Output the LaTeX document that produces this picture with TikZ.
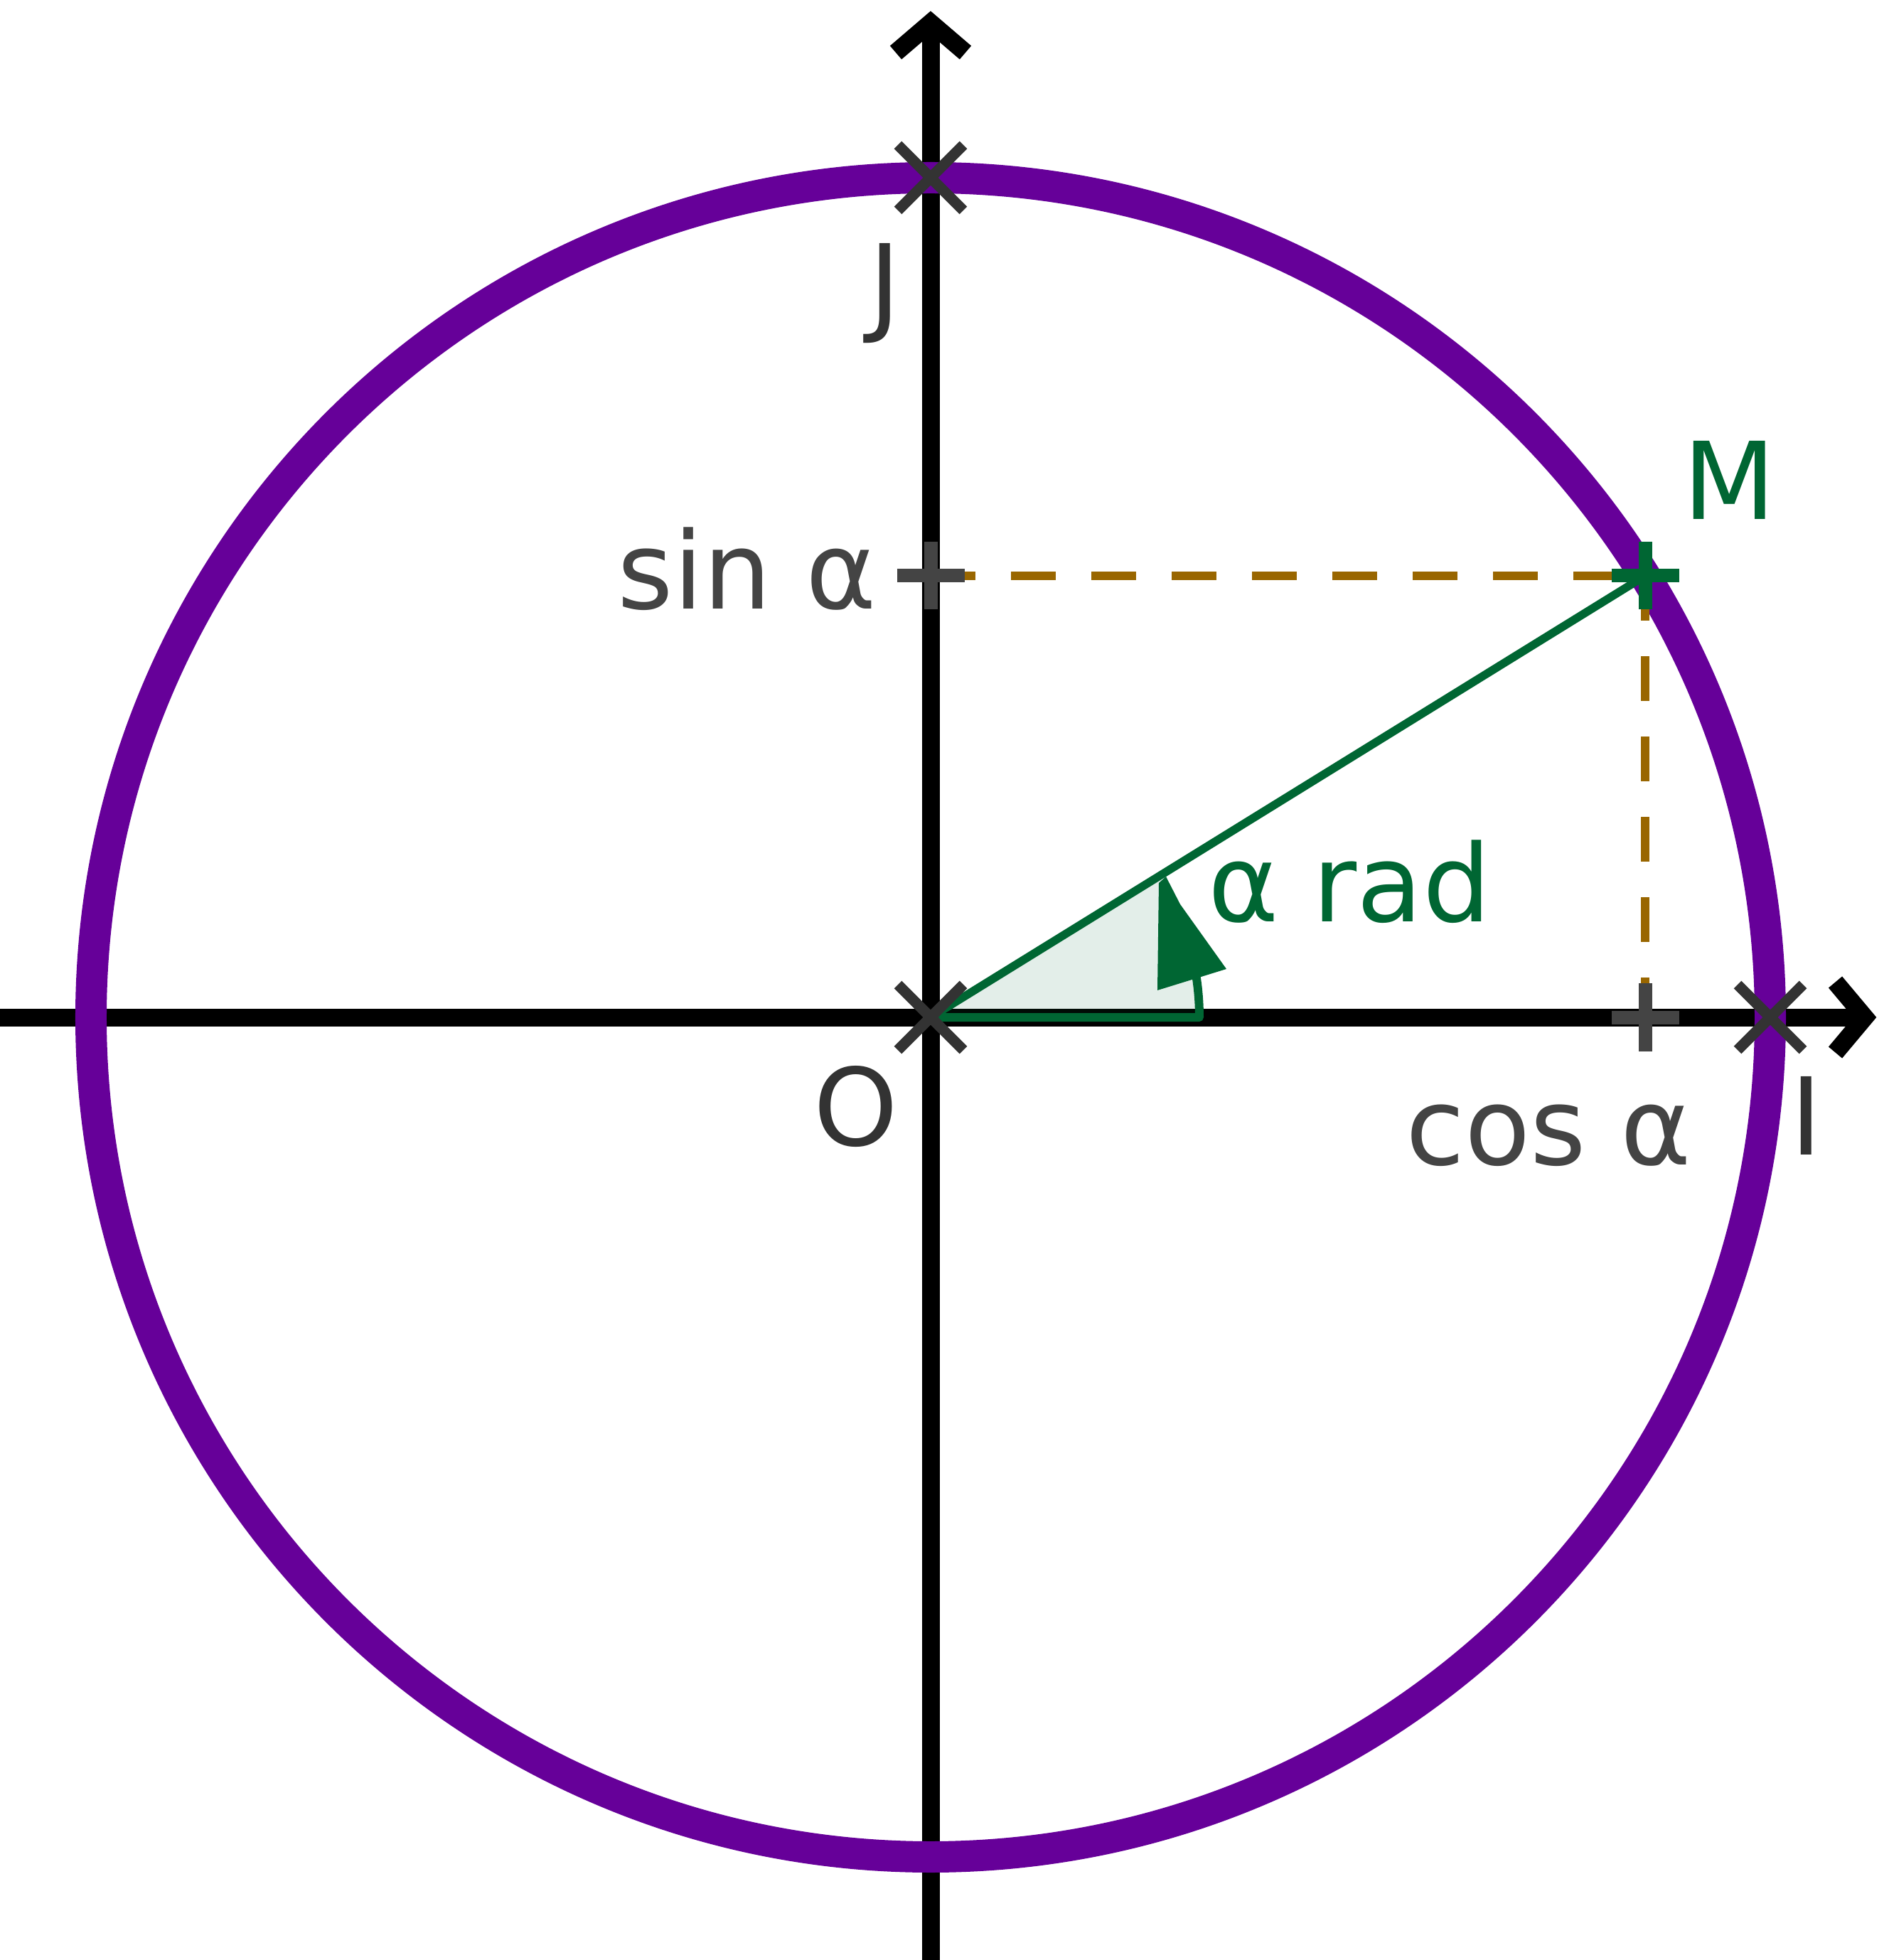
\documentclass[tikz,border=0pt]{standalone}
\usepackage{fontspec}
\setmainfont{DejaVu Sans}
\definecolor{purp}{HTML}{660099}
\definecolor{dgreen}{HTML}{006633}
\definecolor{brn}{HTML}{996600}
\definecolor{gthree}{HTML}{333333}
\definecolor{gfour}{HTML}{444444}
\begin{document}
\begin{tikzpicture}[
  axisline/.style={line width=0.25cm, black},
  chev/.style={line width=0.25cm, black, line join=miter, miter limit=10},
  ucircle/.style={line width=0.44cm, purp},
  guide/.style={line width=0.12cm, brn, dash pattern=on 0.63cm off 0.50cm},
  omline/.style={line width=0.115cm, dgreen},
  anglestroke/.style={line width=0.12cm, dgreen, line join=round},
  xmarkstyle/.style={line width=0.15cm, gthree},
  plusstyle/.style={line width=0.19cm},
  lbl/.style={inner sep=0pt, outer sep=0pt, anchor=base west, font=\fontsize{42.97}{50}\selectfont},
  xmark/.pic={\draw[xmarkstyle] (-0.46,-0.46) -- (0.46,0.46) (-0.46,0.46) -- (0.46,-0.46);},
  plusmark/.pic={\draw[plusstyle] (-0.475,0) -- (0.475,0) (0,-0.475) -- (0,0.475);},
]
\useasboundingbox (-13.09,-13.26) rectangle (13.48,14.31);

% named points
\coordinate (O) at (0,0);
\coordinate (J) at (0,11.81);
\coordinate (I) at (11.81,0);
\coordinate (M) at (10.05,6.21);
\coordinate (S) at (0,6.21);
\coordinate (C) at (10.05,0);
\coordinate (xl) at (-13.3,0);
\coordinate (xr) at (13.14,0);
\coordinate (yb) at (0,-13.5);
\coordinate (yt) at (0,13.99);
\coordinate (A0) at (3.78,0);

% axes
\draw[axisline] (xl) -- (xr);
\draw[axisline] (yb) -- (yt);
\draw[chev] (12.725,0.495) -- (xr) -- (12.725,-0.495);
\draw[chev] (-0.49,13.57) -- (yt) -- (0.49,13.57);

% angle wedge
\fill[dgreen, fill opacity=0.11] (O) -- (A0) arc[start angle=0, end angle=31.7, radius=3.78] -- cycle;
\draw[anglestroke] (O) -- (A0) arc[start angle=0, end angle=9, radius=3.78];
\fill[dgreen] (3.19,0.38) -- (3.21,1.89) -- (3.31,1.98) -- (3.51,1.59) -- (4.16,0.68) -- cycle;

% unit circle
\draw[ucircle] (O) circle[radius=11.81];

% radius to M
\draw[omline] (O) -- (M);

% projections
\draw[guide] (S) -- (M);
\draw[guide] (M) -- (C);

% marks
\pic at (O) {xmark};
\pic at (J) {xmark};
\pic at (I) {xmark};
\pic[gfour] at (S) {plusmark};
\pic[gfour] at (C) {plusmark};
\pic[dgreen] at (M) {plusmark};

% labels
\node[lbl, gthree] (Jl) at (-0.87,9.78) {J};
\node[lbl, gthree] (Ol) at (-1.64,-1.80) {O};
\node[lbl, gthree] (Il) at (12.09,-1.93) {I};
\node[lbl, dgreen] (Ml) at (10.58,7.00) {M};
\node[lbl, gfour] (sinl) at (-4.40,5.74) {sin α};
\node[lbl, gfour] (cosl) at (6.68,-2.07) {cos α};
\node[lbl, dgreen] (radl) at (3.90,1.34) {α rad};
\end{tikzpicture}
\end{document}
